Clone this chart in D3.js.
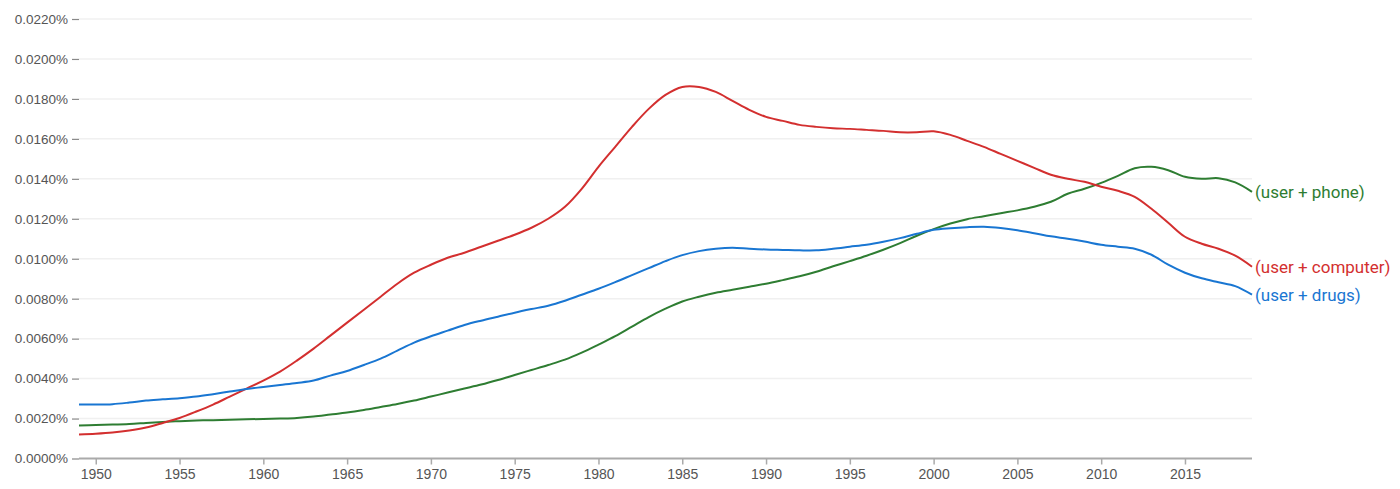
<!DOCTYPE html>
<html>
<head>
<meta charset="utf-8">
<script src="https://cdn.jsdelivr.net/npm/d3@7"></script>
<style>
  body { margin: 0; background: #fff; }
  svg { font-family: Roboto, "Noto Sans", sans-serif; }
</style>
</head>
<body>
<script>
// years 1949..2019, values in units of 0.0001%
var years = d3.range(1949, 2020);

var computer = [12, 12.4, 13, 14, 15.5, 17.8, 20.3, 23.5, 27, 31, 35, 39, 43.5, 49, 55, 61.5, 68, 74.5, 81, 87.5,
  93, 97, 100.5, 103, 106, 109, 112, 115.5, 120, 126, 135, 146, 156, 166, 175, 182, 186, 186, 183.5, 179,
  174.5, 171, 169, 167, 166, 165.3, 165, 164.5, 164, 163.3, 163.3, 163.8, 162, 159, 156, 152.5, 149, 145.5, 142, 140,
  138.5, 136, 134, 131, 125, 118, 111, 107.5, 105, 101.5, 96];

var drugs = [27, 27, 27.2, 28, 29, 29.6, 30.2, 31, 32.2, 33.5, 34.8, 35.8, 36.8, 37.8, 39, 41.5, 43.8, 46.8, 50, 54,
  58, 61.2, 64, 66.8, 69, 71, 73, 74.8, 76.5, 79, 82, 85, 88.3, 91.8, 95.3, 98.8, 101.8, 103.8, 105, 105.5,
  105, 104.6, 104.4, 104.2, 104.2, 105, 106, 107, 108.5, 110.3, 112.5, 114.5, 115.3, 115.8, 116, 115.4, 114.3, 112.8, 111.2, 110,
  108.6, 107, 106, 105, 102, 97, 93, 90.2, 88.2, 86.3, 82];

var phone = [16.5, 16.8, 17, 17.3, 17.8, 18.3, 18.7, 19, 19.2, 19.4, 19.6, 19.8, 20, 20.3, 21, 22, 23, 24.3, 25.8, 27.3,
  29, 31, 33, 35, 37, 39.3, 41.8, 44.3, 46.8, 49.5, 53, 57, 61.2, 66, 70.8, 75, 78.6, 81, 83, 84.5,
  86, 87.5, 89.3, 91.2, 93.5, 96.2, 98.8, 101.5, 104.5, 107.8, 111.5, 114.8, 117.6, 119.8, 121.3, 122.8, 124.2, 126, 128.5, 132.5,
  135, 138, 141.5, 145.3, 146, 144.3, 141, 140, 140.3, 138.2, 133.5];

var seriesNames = ["(user + phone)", "(user + computer)", "(user + drugs)"];
var seriesValues = [phone, computer, drugs];
var seriesColors = ["#2e7d32", "#d32f2f", "#1976d2"];

var yTicks = d3.range(0, 221, 20);
var xTicks = d3.range(1950, 2016, 5);

var width = 1400, height = 489;
var plotLeft = 79, plotRight = 1252, plotTop = 19, plotBottom = 458.5;

var svg = d3.select("body").append("svg")
  .attr("width", width)
  .attr("height", height);

var x = d3.scaleLinear().domain([1949, 2019]).range([plotLeft, plotRight]);
var y = d3.scaleLinear().domain([0, 220]).range([plotBottom, plotTop]);

// gridlines
svg.append("g")
  .selectAll("line")
  .data(yTicks.slice(1))
  .enter().append("line")
  .attr("x1", plotLeft).attr("x2", plotRight)
  .attr("y1", function(d) { return y(d); })
  .attr("y2", function(d) { return y(d); })
  .attr("stroke", "#f0f0f0")
  .attr("stroke-width", 1.5);

// y axis labels + small dashes
var yAxis = svg.append("g")
  .attr("transform", "translate(" + plotLeft + ",0)")
  .call(d3.axisLeft(y).tickValues(yTicks).tickSize(7).tickPadding(4)
    .tickFormat(function(d) { return (d / 10000).toFixed(4) + "%"; }));
yAxis.select(".domain").remove();
yAxis.selectAll("line").attr("stroke", "#888").attr("stroke-width", 1.2);
yAxis.selectAll("text").attr("fill", "#555").style("font-size", "13.5px");

// x axis
var xAxis = svg.append("g")
  .attr("transform", "translate(0," + plotBottom + ")")
  .call(d3.axisBottom(x).tickValues(xTicks).tickSize(6).tickPadding(5)
    .tickFormat(d3.format("d")));
xAxis.select(".domain").attr("stroke", "#aaa").attr("stroke-width", 2)
  .attr("d", "M" + plotLeft + ",0H" + plotRight);
xAxis.selectAll("line").attr("stroke", "#aaa").attr("stroke-width", 1.5);
xAxis.selectAll("text").attr("fill", "#555").style("font-size", "14px");

var line = d3.line()
  .x(function(d, i) { return x(years[i]); })
  .y(function(d) { return y(d); })
  .curve(d3.curveCatmullRom.alpha(0.5));

seriesValues.forEach(function(vals, k) {
  svg.append("path")
    .datum(vals)
    .attr("fill", "none")
    .attr("stroke", seriesColors[k])
    .attr("stroke-width", 2)
    .attr("d", line);

  svg.append("text")
    .attr("x", x(2019) + 3)
    .attr("y", y(vals[vals.length - 1]))
    .attr("dy", "0.35em")
    .attr("fill", seriesColors[k])
    .style("font-size", "17px")
    .text(seriesNames[k]);
});
</script>
</body>
</html>
